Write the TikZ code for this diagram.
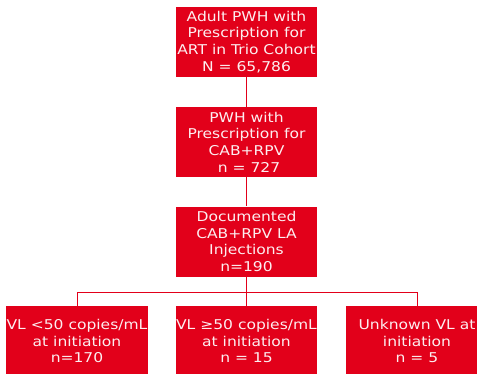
\documentclass[tikz,border=0pt]{standalone}
\usepackage{fontspec}
\setmainfont{DejaVu Sans}[FakeStretch=1.15]
\definecolor{boxred}{HTML}{E2001A}
\definecolor{txtwhite}{HTML}{FDEEF0}
\begin{document}
\begin{tikzpicture}[x=1pt,y=-1pt,
  flowbox/.style={fill=boxred, text=txtwhite, minimum width=141pt, minimum height=70pt,
    inner sep=0pt, align=center, font=\fontsize{13.5}{16.7}\selectfont},
  link/.style={draw=boxred, line width=0.9pt}]
\useasboundingbox (0,0) rectangle (477,373);
\begin{scope}
\clip (0,0) rectangle (477,373);
\node[flowbox] (b1) at (246.5,42) {Adult PWH with\\Prescription for\\ART in Trio Cohort\\N = 65,786};
\node[flowbox] (b2) at (246.5,142) {PWH with\\Prescription for\\CAB+RPV\\\ n = 727};
\node[flowbox] (b3) at (246.5,241.5) {Documented\\CAB+RPV LA\\Injections\\n=190};
\node[flowbox, minimum width=142pt] (l) at (77,341) {VL <50 copies/mL\\at initiation\\n=170};
\node[flowbox, minimum width=139pt] (m) at (246.5,341) {VL ≥50 copies/mL\\at initiation\\n = 15};
\node[flowbox, minimum width=142pt] (r) at (417,341) {Unknown VL at\\initiation\\n = 5};
\coordinate (bar) at (246.5,292);
\draw[link] (b1.south) -- (b2.north);
\draw[link] (b2.south) -- (b3.north);
\draw[link] (b3.south) -- (bar);
\draw[link] (bar) -| (l.north);
\draw[link] (bar) -| (r.north);
\draw[link] (bar) -- (m.north);
\end{scope}
\end{tikzpicture}
\end{document}
